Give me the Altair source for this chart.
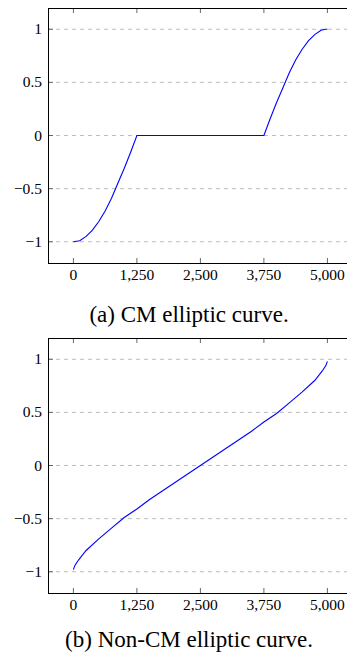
import altair as alt
import pandas as pd

# ---- data ----
cm_x = [0, 125, 250, 375, 500, 625, 750, 875, 1000, 1125, 1250,
        3750, 3875, 4000, 4125, 4250, 4375, 4500, 4625, 4750, 4875, 4960, 5000]
cm_y = [-1.00, -0.99, -0.95, -0.89, -0.81, -0.71, -0.59, -0.45, -0.31, -0.16, 0.00,
        0.00, 0.16, 0.31, 0.45, 0.59, 0.71, 0.81, 0.89, 0.95, 0.99, 1.00, 1.00]

ncm_x = [0, 30, 100, 250, 500, 750, 1000, 1250, 1500, 1750, 2000, 2250, 2500,
         2750, 3000, 3250, 3500, 3750, 4000, 4250, 4500, 4750, 4900, 4970, 5000]
ncm_y = [-0.98, -0.94, -0.89, -0.80, -0.69, -0.59, -0.49, -0.41, -0.32, -0.24, -0.16, -0.08, 0.00,
         0.08, 0.16, 0.24, 0.32, 0.41, 0.49, 0.59, 0.69, 0.80, 0.89, 0.94, 0.98]

x_ticks = [0, 1250, 2500, 3750, 5000]
y_ticks = [-1, -0.5, 0, 0.5, 1]
captions = ["(a) CM elliptic curve.", "(b) Non-CM elliptic curve."]

# ---- layout (pixels inside the view) ----
W = 299            # view width (plot continues to the page edge)
HT = 646           # whole drawing height
PANEL_TOP = [0, 330]
PANEL_H = 255
CAPTION_Y = [307, 632]
CAPTION_X = 141
FONT = "Liberation Serif"
TICK_FS = 15.5
CAP_FS = 23

xs = alt.Scale(domain=[-500, 5386], nice=False, zero=False)

xt_df = pd.DataFrame({"x": x_ticks})
yt_df = pd.DataFrame({"y": y_ticks})
one = pd.DataFrame({"k": [0]})


def panel(i, xv, yv):
    top = PANEL_TOP[i]
    bot = top + PANEL_H
    ys = alt.Scale(domain=[-1.2, 1.2], range=[bot, top], nice=False, zero=False)
    df = pd.DataFrame({"x": xv, "y": yv})
    layers = []
    # dashed horizontal grid
    layers.append(alt.Chart(yt_df).mark_rule(color="#bdbdbd", strokeWidth=1,
                                             strokeDash=[4, 4]).encode(
        y=alt.Y("y:Q", scale=ys, axis=None), x=alt.value(0), x2=alt.value(W)))
    # curve
    layers.append(alt.Chart(df).mark_line(color="#0000ff", strokeWidth=1.1).encode(
        x=alt.X("x:Q", scale=xs, axis=None),
        y=alt.Y("y:Q", scale=ys, axis=None)))
    # inward ticks
    layers.append(alt.Chart(xt_df).mark_rule(color="#666666", strokeWidth=1).encode(
        x=alt.X("x:Q", scale=xs, axis=None), y=alt.value(bot), y2=alt.value(bot - 5)))
    layers.append(alt.Chart(xt_df).mark_rule(color="#666666", strokeWidth=1).encode(
        x=alt.X("x:Q", scale=xs, axis=None), y=alt.value(top), y2=alt.value(top + 5)))
    layers.append(alt.Chart(yt_df).mark_rule(color="#666666", strokeWidth=1).encode(
        y=alt.Y("y:Q", scale=ys, axis=None), x=alt.value(0), x2=alt.value(5)))
    # frame (left, top, bottom; right side lies past the page edge)
    layers.append(alt.Chart(one).mark_rule(color="black", strokeWidth=1).encode(
        x=alt.value(0.5), y=alt.value(top), y2=alt.value(bot + 1)))
    layers.append(alt.Chart(one).mark_rule(color="black", strokeWidth=1).encode(
        x=alt.value(0), x2=alt.value(W), y=alt.value(top + 0.5)))
    layers.append(alt.Chart(one).mark_rule(color="black", strokeWidth=1).encode(
        x=alt.value(0), x2=alt.value(W), y=alt.value(bot + 0.5)))
    # tick labels
    layers.append(alt.Chart(xt_df).mark_text(font=FONT, fontSize=TICK_FS, color="black",
                                             align="center", baseline="middle").encode(
        x=alt.X("x:Q", scale=xs, axis=None), y=alt.value(bot + 12),
        text=alt.Text("x:Q", format=",d")))
    layers.append(alt.Chart(yt_df).mark_text(font=FONT, fontSize=TICK_FS, color="black",
                                             align="right", baseline="middle").encode(
        y=alt.Y("y:Q", scale=ys, axis=None), x=alt.value(-6),
        text=alt.Text("y:Q", format=".1~f")))
    # caption
    layers.append(alt.Chart(pd.DataFrame({"t": [captions[i]]})).mark_text(
        font=FONT, fontSize=CAP_FS, color="black", align="center", baseline="middle").encode(
        x=alt.value(CAPTION_X), y=alt.value(CAPTION_Y[i]), text="t:N"))
    return layers


chart = alt.layer(
    *panel(0, cm_x, cm_y),
    *panel(1, ncm_x, ncm_y),
).resolve_scale(y="independent").properties(
    width=W, height=HT,
    autosize=alt.AutoSizeParams(type="none"),
    padding={"left": 40, "top": 0, "right": 0, "bottom": 0},
).configure_view(stroke=None)

chart.save("out.html", embed_options={"renderer": "svg", "actions": False})
